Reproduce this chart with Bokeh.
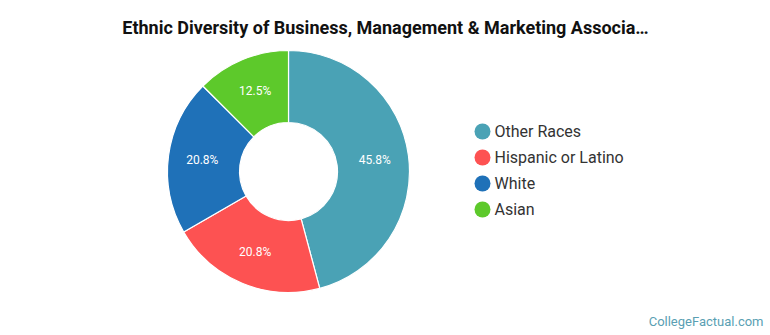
import numpy as np
from bokeh.plotting import figure
from bokeh.models import Range1d, ColumnDataSource
from bokeh.core.properties import value
from bokeh.embed import file_html
from bokeh.resources import INLINE

# ---- data ----
categories = ["Other Races", "Hispanic or Latino", "White", "Asian"]
percents = [45.8, 20.8, 20.8, 12.5]
pct_labels = ["45.8%", "20.8%", "20.8%", "12.5%"]
colors = ["#4aa2b5", "#fd5252", "#1f71b8", "#5dc92b"]
title_text = "Ethnic Diversity of Business, Management & Marketing Associa\u2026"
footer_text = "CollegeFactual.com"

W, H = 770, 335
p = figure(width=W, height=H, output_backend="svg", toolbar_location=None,
           x_range=Range1d(0, W), y_range=Range1d(0, H), min_border=0)
p.axis.visible = False
p.grid.visible = False
p.outline_line_color = None
p.background_fill_color = "white"
p.border_fill_color = "white"

def Y(y_px):
    return H - y_px

cx, cy = 288, Y(171)
r_out, r_in = 121, 49

vals = np.array(percents, dtype=float)
frac = vals / vals.sum()
cum = np.concatenate([[0], np.cumsum(frac)])
start = np.pi / 2 - cum[:-1] * 2 * np.pi
end = np.pi / 2 - cum[1:] * 2 * np.pi
mid = (start + end) / 2
r_lab = (r_out + r_in) / 2 + 2

src = ColumnDataSource(dict(
    start=start, end=end, color=colors,
    lx=cx + r_lab * np.cos(mid), ly=cy + r_lab * np.sin(mid), lab=pct_labels,
))
p.annular_wedge(x=cx, y=cy, inner_radius=r_in, outer_radius=r_out,
                start_angle="start", end_angle="end", direction="clock",
                fill_color="color", line_color="white", line_width=1.2, source=src)
p.text(x="lx", y="ly", text="lab", source=src, text_color="white",
       text_font=value("Roboto"), text_font_size="12px",
       text_align="center", text_baseline="middle")

# legend
leg_y = [Y(131 + 26 * i) for i in range(len(categories))]
lsrc = ColumnDataSource(dict(x=[482] * len(categories), y=leg_y,
                             tx=[494] * len(categories), c=colors, t=categories))
p.scatter(x="x", y="y", size=16, marker="circle", fill_color="c",
          line_color=None, source=lsrc)
p.text(x="tx", y="y", text="t", source=lsrc, text_color="#333333",
       text_font=value("Roboto"), text_font_size="16px",
       text_align="left", text_baseline="middle")

# title
p.text(x=[385], y=[Y(27)], text=[title_text], text_color="#111111",
       text_font=value("Roboto"), text_font_style="bold", text_font_size="18px",
       text_align="center", text_baseline="middle")
# footer
p.text(x=[763], y=[Y(321)], text=[footer_text], text_color="#5a9fb3",
       text_font=value("Roboto"), text_font_size="13px",
       text_align="right", text_baseline="middle")

open("out.html", "w").write(file_html(p, INLINE))
